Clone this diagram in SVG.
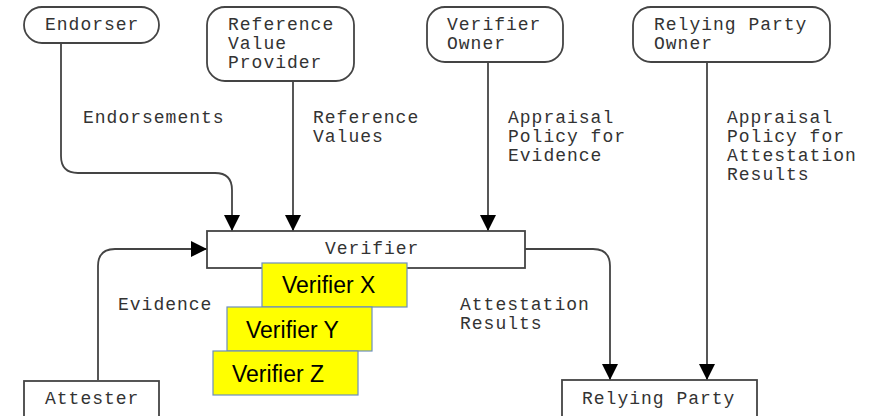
<svg xmlns="http://www.w3.org/2000/svg" width="877" height="416" viewBox="0 0 877 416">
<defs>
<style>
.box{fill:#fff;stroke:#444;stroke-width:1.8}
.t{font-family:"Liberation Mono","DejaVu Sans Mono",monospace;font-size:18px;letter-spacing:1px;fill:#333}
.c{fill:none;stroke:#444;stroke-width:1.8}
.y{fill:#ffff00;stroke:#6c8ebf;stroke-width:1.2}
.yt{font-family:"Liberation Sans",Arial,sans-serif;font-size:23px;fill:#000}
</style>
<marker id="ah" viewBox="0 0 16 16" refX="16" refY="8" markerWidth="16" markerHeight="16" markerUnits="userSpaceOnUse" orient="auto">
<path d="M0,0 L16,8 L0,16 Z" fill="#000"/>
</marker>
</defs>
<rect width="877" height="416" fill="#fff"/>
<g id="connectors">
<path class="c" d="M61,43 V156 Q61,173 78,173 H215 Q232,173 232,190 V231" marker-end="url(#ah)"/>
<path class="c" d="M293,81 V231" marker-end="url(#ah)"/>
<path class="c" d="M488,62 V231" marker-end="url(#ah)"/>
<path class="c" d="M707,62 V380" marker-end="url(#ah)"/>
<path class="c" d="M98,380 V266 Q98,249 115,249 H207" marker-end="url(#ah)"/>
<path class="c" d="M525,249 H593 Q610,249 610,266 V380" marker-end="url(#ah)"/>
<text class="t" x="83" y="123">Endorsements</text>
<text class="t" x="313" y="123">Reference</text>
<text class="t" x="313" y="142">Values</text>
<text class="t" x="508" y="123">Appraisal</text>
<text class="t" x="508" y="142">Policy for</text>
<text class="t" x="508" y="161">Evidence</text>
<text class="t" x="727" y="123">Appraisal</text>
<text class="t" x="727" y="142">Policy for</text>
<text class="t" x="727" y="161">Attestation</text>
<text class="t" x="727" y="180">Results</text>
<text class="t" x="118" y="310">Evidence</text>
<text class="t" x="460" y="310">Attestation</text>
<text class="t" x="460" y="329">Results</text>
</g>
<g id="endorser">
<rect class="box" x="24" y="7" width="135" height="36" rx="18"/>
<text class="t" x="45" y="30">Endorser</text>
</g>
<g id="rvp">
<rect class="box" x="207" y="7" width="147" height="74" rx="18"/>
<text class="t" x="228" y="30">Reference</text>
<text class="t" x="228" y="49">Value</text>
<text class="t" x="228" y="68">Provider</text>
</g>
<g id="verifier-owner">
<rect class="box" x="427" y="7" width="136" height="55" rx="18"/>
<text class="t" x="447" y="30">Verifier</text>
<text class="t" x="447" y="49">Owner</text>
</g>
<g id="rp-owner">
<rect class="box" x="633" y="7" width="197" height="55" rx="18"/>
<text class="t" x="654" y="30">Relying Party</text>
<text class="t" x="654" y="49">Owner</text>
</g>
<g id="verifier">
<rect class="box" x="207" y="231" width="318" height="37"/>
<text class="t" x="325" y="254">Verifier</text>
</g>
<g id="attester">
<rect class="box" x="24" y="381" width="135" height="50"/>
<text class="t" x="45" y="404">Attester</text>
</g>
<g id="relying-party">
<rect class="box" x="562" y="380" width="195" height="50"/>
<text class="t" x="582" y="404">Relying Party</text>
</g>
<g id="verifier-x">
<rect class="y" x="262" y="263" width="145" height="44"/>
<text class="yt" x="282" y="293">Verifier X</text>
</g>
<g id="verifier-y">
<rect class="y" x="227" y="307" width="145" height="44"/>
<text class="yt" x="246" y="338">Verifier Y</text>
</g>
<g id="verifier-z">
<rect class="y" x="213" y="351" width="145" height="44"/>
<text class="yt" x="232" y="382">Verifier Z</text>
</g>
</svg>
